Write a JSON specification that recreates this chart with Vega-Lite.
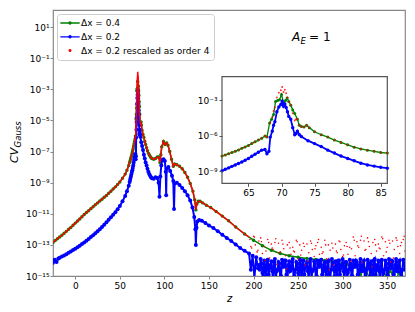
{
"$schema":"https://vega.github.io/schema/vega-lite/v6.json",
"width":352,"height":266,
"autosize":{"type":"none"},
"padding":{"left":53,"top":10,"right":10,"bottom":36},
"background":"white",
"config":{"font":"DejaVu Sans","view":{"stroke":"#888888","strokeWidth":1.2},"axis":{"grid":false,"domain":false,"labelFontSize":9,"labelColor":"#000000","tickColor":"#888888","tickSize":3,"titleFontWeight":"normal","titleColor":"#000000"}},
"datasets":{
"g":[{"z":-25,"v":1.41e-13},{"z":-22.5,"v":1.91e-13},{"z":-20,"v":2.51e-13},{"z":-17.5,"v":3.24e-13},{"z":-15,"v":4.17e-13},{"z":-12.5,"v":5.62e-13},{"z":-10,"v":7.41e-13},{"z":-7.5,"v":1e-12},{"z":-5,"v":1.32e-12},{"z":-2.5,"v":1.82e-12},{"z":0,"v":2.51e-12},{"z":2.5,"v":3.39e-12},{"z":5,"v":4.68e-12},{"z":7.5,"v":6.46e-12},{"z":10,"v":8.91e-12},{"z":12.5,"v":1.2e-11},{"z":15,"v":1.58e-11},{"z":17.5,"v":2.14e-11},{"z":20,"v":2.82e-11},{"z":22.5,"v":3.8e-11},{"z":25,"v":5.01e-11},{"z":27.5,"v":6.61e-11},{"z":30,"v":8.71e-11},{"z":32.5,"v":1.15e-10},{"z":35,"v":1.51e-10},{"z":37.5,"v":2.09e-10},{"z":40,"v":2.82e-10},{"z":42.5,"v":3.89e-10},{"z":45,"v":5.37e-10},{"z":47.5,"v":7.59e-10},{"z":50,"v":1.12e-9},{"z":53,"v":1.91e-9},{"z":56,"v":3.55e-9},{"z":58,"v":6.31e-9},{"z":60,"v":1.26e-8},{"z":61,"v":2e-8},{"z":61.5,"v":2.51e-8},{"z":62,"v":3.16e-8},{"z":62.5,"v":3.98e-8},{"z":63,"v":5.01e-8},{"z":63.5,"v":6.61e-8},{"z":64,"v":8.91e-8},{"z":64.5,"v":1.17e-7},{"z":65,"v":1.58e-7},{"z":65.5,"v":2.24e-7},{"z":66,"v":3.16e-7},{"z":66.5,"v":4.47e-7},{"z":67,"v":6.31e-7},{"z":67.5,"v":1e-6},{"z":67.8,"v":7.94e-7},{"z":68.2,"v":1.26e-5},{"z":68.5,"v":2.51e-5},{"z":68.8,"v":6.31e-5},{"z":69.1,"v":7.94e-4},{"z":69.4,"v":1e-3},{"z":69.7,"v":1.12e-3},{"z":70,"v":3.16e-3},{"z":70.3,"v":6.31e-4},{"z":70.6,"v":1e-3},{"z":70.85,"v":1.58e-3},{"z":71.1,"v":7.94e-4},{"z":71.4,"v":3.98e-4},{"z":71.7,"v":1.58e-4},{"z":72,"v":7.94e-5},{"z":72.4,"v":2.51e-5},{"z":72.7,"v":7.94e-6},{"z":73,"v":6.31e-6},{"z":73.4,"v":5.62e-6},{"z":73.8,"v":7.94e-6},{"z":74.2,"v":5.01e-6},{"z":75,"v":2.24e-6},{"z":76,"v":1.26e-6},{"z":77,"v":7.94e-7},{"z":78,"v":4.47e-7},{"z":79,"v":2.82e-7},{"z":80,"v":1.78e-7},{"z":81,"v":1.12e-7},{"z":82,"v":7.94e-8},{"z":83,"v":6.31e-8},{"z":84,"v":5.01e-8},{"z":85,"v":3.98e-8},{"z":86,"v":3.55e-8},{"z":88,"v":3.16e-8},{"z":90,"v":3.55e-8},{"z":92,"v":4.47e-8},{"z":93.5,"v":4.47e-8},{"z":95,"v":2e-8},{"z":96,"v":6.31e-8},{"z":97,"v":2e-7},{"z":99,"v":4.47e-7},{"z":100.5,"v":2.82e-7},{"z":102.5,"v":3.55e-7},{"z":104,"v":2.51e-7},{"z":106,"v":1e-7},{"z":108,"v":3.16e-8},{"z":110,"v":1.12e-8},{"z":111.5,"v":1.58e-8},{"z":114,"v":1.41e-8},{"z":117,"v":1.12e-8},{"z":120,"v":7.94e-9},{"z":123,"v":4.47e-9},{"z":126,"v":2.24e-9},{"z":129,"v":8.91e-10},{"z":132,"v":2.82e-10},{"z":134,"v":7.94e-11},{"z":135.3,"v":1.78e-11},{"z":136.5,"v":4.47e-11},{"z":138,"v":6.31e-11},{"z":140,"v":6.31e-11},{"z":143,"v":5.01e-11},{"z":147,"v":3.55e-11},{"z":152,"v":2.51e-11},{"z":158,"v":1.41e-11},{"z":165,"v":7.08e-12},{"z":172,"v":3.55e-12},{"z":180,"v":1.41e-12},{"z":190,"v":5.01e-13},{"z":200,"v":2e-13},{"z":210,"v":8.91e-14},{"z":220,"v":4.47e-14},{"z":230,"v":2.82e-14},{"z":240,"v":2e-14},{"z":250,"v":1.58e-14},{"z":260,"v":1.32e-14},{"z":270,"v":1.17e-14},{"z":280,"v":1e-14},{"z":285,"v":8.91e-15},{"z":290,"v":7.94e-15},{"z":295,"v":7.08e-15},{"z":300,"v":6.31e-15},{"z":305,"v":5.62e-15},{"z":310,"v":3.98e-15},{"z":315,"v":5.01e-15},{"z":320,"v":1.26e-15},{"z":322,"v":3.98e-15},{"z":326,"v":3.16e-15},{"z":330,"v":6.31e-16},{"z":333,"v":3.16e-15},{"z":336,"v":2.51e-15},{"z":340,"v":5.01e-16},{"z":342,"v":2.51e-15},{"z":346,"v":2e-15},{"z":350,"v":6.31e-16},{"z":353,"v":2e-15},{"z":356,"v":1.58e-15},{"z":360,"v":5.01e-16},{"z":363,"v":1.58e-15},{"z":366,"v":1.26e-15},{"z":370,"v":6.31e-16}],
"b":[{"z":-25,"v":7.08e-15},{"z":-23,"v":1.12e-14},{"z":-21,"v":7.94e-15},{"z":-19,"v":1.32e-14},{"z":-17.5,"v":1.51e-14},{"z":-15,"v":1.78e-14},{"z":-12.5,"v":2.09e-14},{"z":-10,"v":2.51e-14},{"z":-7.5,"v":3.09e-14},{"z":-5,"v":3.8e-14},{"z":-2.5,"v":4.68e-14},{"z":0,"v":5.62e-14},{"z":2.5,"v":7.08e-14},{"z":5,"v":8.91e-14},{"z":7.5,"v":1.12e-13},{"z":10,"v":1.41e-13},{"z":12.5,"v":1.86e-13},{"z":15,"v":2.4e-13},{"z":17.5,"v":3.16e-13},{"z":20,"v":4.17e-13},{"z":22.5,"v":5.62e-13},{"z":25,"v":7.41e-13},{"z":27.5,"v":1.02e-12},{"z":30,"v":1.41e-12},{"z":32.5,"v":2e-12},{"z":35,"v":2.82e-12},{"z":37.5,"v":4.07e-12},{"z":40,"v":5.89e-12},{"z":42.5,"v":8.51e-12},{"z":45,"v":1.26e-11},{"z":47.5,"v":1.95e-11},{"z":50,"v":3.16e-11},{"z":53,"v":6.31e-11},{"z":56,"v":1.41e-10},{"z":58,"v":2.82e-10},{"z":60,"v":6.31e-10},{"z":61,"v":1.12e-9},{"z":61.5,"v":1.51e-9},{"z":62,"v":2e-9},{"z":62.5,"v":2.69e-9},{"z":63,"v":3.55e-9},{"z":63.5,"v":4.79e-9},{"z":64,"v":6.31e-9},{"z":64.5,"v":8.91e-9},{"z":65,"v":1.26e-8},{"z":65.5,"v":1.91e-8},{"z":66,"v":2.82e-8},{"z":66.5,"v":4.17e-8},{"z":67,"v":6.31e-8},{"z":67.5,"v":7.08e-8},{"z":67.8,"v":3.16e-8},{"z":68.1,"v":5.01e-8},{"z":68.3,"v":7.94e-7},{"z":68.6,"v":2.51e-6},{"z":68.8,"v":7.94e-6},{"z":69,"v":1.58e-5},{"z":69.3,"v":1.12e-4},{"z":69.6,"v":2.82e-4},{"z":69.9,"v":4.47e-4},{"z":70.1,"v":8.32e-4},{"z":70.3,"v":3.16e-4},{"z":70.5,"v":5.01e-4},{"z":70.7,"v":2.51e-4},{"z":70.9,"v":1.12e-4},{"z":71.1,"v":4.47e-5},{"z":71.4,"v":2.51e-5},{"z":71.7,"v":5.01e-6},{"z":72,"v":1.26e-6},{"z":72.2,"v":1.58e-6},{"z":72.4,"v":2.51e-6},{"z":72.7,"v":1.26e-6},{"z":73,"v":8.91e-7},{"z":74,"v":3.98e-7},{"z":75,"v":2.24e-7},{"z":76,"v":1.26e-7},{"z":77,"v":6.31e-8},{"z":78,"v":3.55e-8},{"z":79,"v":2e-8},{"z":80,"v":1.26e-8},{"z":81,"v":7.94e-9},{"z":82,"v":5.01e-9},{"z":83,"v":3.55e-9},{"z":84,"v":2.82e-9},{"z":85,"v":2.24e-9},{"z":86,"v":1.91e-9},{"z":88,"v":1.78e-9},{"z":90,"v":2.24e-9},{"z":92,"v":2e-9},{"z":93.5,"v":1e-9},{"z":94.5,"v":1.26e-10},{"z":95.5,"v":2.51e-9},{"z":96.5,"v":1.26e-8},{"z":97.5,"v":2.82e-8},{"z":99,"v":3.16e-8},{"z":100.5,"v":2.51e-8},{"z":101.5,"v":5.01e-9},{"z":102,"v":1.58e-10},{"z":102.5,"v":7.94e-9},{"z":104.5,"v":1e-8},{"z":106.5,"v":5.62e-9},{"z":108.5,"v":2.82e-9},{"z":110,"v":1.26e-9},{"z":110.8,"v":2e-11},{"z":111.5,"v":8.91e-10},{"z":114,"v":1e-9},{"z":117,"v":7.08e-10},{"z":120,"v":4.47e-10},{"z":123,"v":2.82e-10},{"z":126,"v":1.58e-10},{"z":129,"v":7.08e-11},{"z":131.5,"v":2.51e-11},{"z":133.5,"v":6.31e-12},{"z":134.8,"v":1e-12},{"z":135.3,"v":1e-13},{"z":136,"v":1.26e-12},{"z":137,"v":3.16e-12},{"z":139,"v":3.98e-12},{"z":142,"v":3.55e-12},{"z":146,"v":2.51e-12},{"z":150,"v":1.78e-12},{"z":155,"v":1.2e-12},{"z":160,"v":7.59e-13},{"z":165,"v":4.47e-13},{"z":170,"v":2.82e-13},{"z":175,"v":1.78e-13},{"z":180,"v":1.05e-13},{"z":185,"v":6.31e-14},{"z":190,"v":4.17e-14},{"z":195,"v":2.82e-14},{"z":197,"v":2.51e-15},{"z":199,"v":2e-14},{"z":201,"v":7.94e-16},{"z":203,"v":1.58e-14},{"z":205,"v":3.16e-15},{"z":206,"v":5.01e-15},{"z":207,"v":2.51e-15},{"z":208,"v":1.26e-14},{"z":209,"v":6.31e-15},{"z":210,"v":1.58e-15},{"z":211,"v":1e-15},{"z":212,"v":1e-14},{"z":213,"v":3.98e-15},{"z":214,"v":6.31e-16},{"z":215,"v":1e-14},{"z":216,"v":1.12e-14},{"z":217,"v":1.26e-15},{"z":218,"v":3.16e-15},{"z":219,"v":5.01e-15},{"z":220,"v":8.91e-15},{"z":221,"v":2e-15},{"z":222,"v":5.01e-16},{"z":223,"v":7.94e-15},{"z":224,"v":1.26e-14},{"z":225,"v":6.31e-16},{"z":226,"v":2e-15},{"z":227,"v":2.51e-15},{"z":228,"v":7.94e-15},{"z":229,"v":6.31e-15},{"z":230,"v":7.94e-16},{"z":231,"v":1e-15},{"z":232,"v":1.12e-14},{"z":233,"v":3.98e-15},{"z":234,"v":3.98e-15},{"z":235,"v":1e-14},{"z":236,"v":1e-14},{"z":237,"v":1.26e-15},{"z":238,"v":5.01e-16},{"z":239,"v":5.01e-15},{"z":240,"v":8.91e-15},{"z":241,"v":2e-15},{"z":242,"v":2.51e-15},{"z":243,"v":7.94e-15},{"z":244,"v":1.26e-14},{"z":245,"v":6.31e-16},{"z":246,"v":1e-15},{"z":247,"v":2.51e-15},{"z":248,"v":7.94e-15},{"z":249,"v":6.31e-15},{"z":250,"v":1.58e-15},{"z":251,"v":1e-15},{"z":252,"v":1.12e-14},{"z":253,"v":3.98e-15},{"z":254,"v":5.01e-16},{"z":255,"v":1e-14},{"z":256,"v":1e-14},{"z":257,"v":1.26e-15},{"z":258,"v":3.16e-15},{"z":259,"v":5.01e-15},{"z":260,"v":7.94e-15},{"z":261,"v":2e-15},{"z":262,"v":6.31e-16},{"z":263,"v":7.94e-15},{"z":264,"v":1.26e-14},{"z":265,"v":6.31e-16},{"z":266,"v":2e-15},{"z":267,"v":2.51e-15},{"z":268,"v":8.91e-15},{"z":269,"v":6.31e-15},{"z":270,"v":5.01e-16},{"z":271,"v":1e-15},{"z":272,"v":1e-14},{"z":273,"v":3.98e-15},{"z":274,"v":3.98e-15},{"z":275,"v":1e-14},{"z":276,"v":1.12e-14},{"z":277,"v":1.26e-15},{"z":278,"v":7.94e-16},{"z":279,"v":5.01e-15},{"z":280,"v":7.94e-15},{"z":281,"v":2e-15},{"z":282,"v":1.26e-15},{"z":283,"v":7.94e-15},{"z":284,"v":1e-14},{"z":285,"v":6.31e-16},{"z":286,"v":5.01e-16},{"z":287,"v":2.51e-15},{"z":288,"v":1.26e-14},{"z":289,"v":6.31e-15},{"z":290,"v":2.51e-15},{"z":291,"v":1e-15},{"z":292,"v":8.91e-15},{"z":293,"v":3.98e-15},{"z":294,"v":6.31e-16},{"z":295,"v":1e-14},{"z":296,"v":1e-14},{"z":297,"v":1.26e-15},{"z":298,"v":3.16e-15},{"z":299,"v":5.01e-15},{"z":300,"v":1.26e-14},{"z":301,"v":2e-15},{"z":302,"v":5.01e-16},{"z":303,"v":7.94e-15},{"z":304,"v":7.94e-15},{"z":305,"v":6.31e-16},{"z":306,"v":1.58e-15},{"z":307,"v":2.51e-15},{"z":308,"v":1.12e-14},{"z":309,"v":6.31e-15},{"z":310,"v":1e-15},{"z":311,"v":1e-15},{"z":312,"v":1e-14},{"z":313,"v":3.98e-15},{"z":314,"v":3.98e-15},{"z":315,"v":1e-14},{"z":316,"v":7.94e-15},{"z":317,"v":1.26e-15},{"z":318,"v":5.01e-16},{"z":319,"v":5.01e-15},{"z":320,"v":1.26e-14},{"z":321,"v":2e-15},{"z":322,"v":2e-15},{"z":323,"v":7.94e-15},{"z":324,"v":1e-14},{"z":325,"v":6.31e-16},{"z":326,"v":6.31e-16},{"z":327,"v":2.51e-15},{"z":328,"v":1.12e-14},{"z":329,"v":6.31e-15},{"z":330,"v":3.16e-15},{"z":331,"v":1e-15},{"z":332,"v":8.91e-15},{"z":333,"v":3.98e-15},{"z":334,"v":5.01e-16},{"z":335,"v":1e-14},{"z":336,"v":1.26e-14},{"z":337,"v":1.26e-15},{"z":338,"v":2.51e-15},{"z":339,"v":5.01e-15},{"z":340,"v":1e-14},{"z":341,"v":2e-15},{"z":342,"v":7.94e-16},{"z":343,"v":7.94e-15},{"z":344,"v":1.12e-14},{"z":345,"v":6.31e-16},{"z":346,"v":1.58e-15},{"z":347,"v":2.51e-15},{"z":348,"v":1e-14},{"z":349,"v":6.31e-15},{"z":350,"v":5.01e-16},{"z":351,"v":1e-15},{"z":352,"v":1.26e-14},{"z":353,"v":3.98e-15},{"z":354,"v":3.16e-15},{"z":355,"v":1e-14},{"z":356,"v":8.91e-15},{"z":357,"v":1.26e-15},{"z":358,"v":6.31e-16},{"z":359,"v":5.01e-15},{"z":360,"v":1.26e-14},{"z":361,"v":2e-15},{"z":362,"v":2e-15},{"z":363,"v":7.94e-15},{"z":364,"v":1e-14},{"z":365,"v":6.31e-16},{"z":366,"v":5.01e-16},{"z":367,"v":2.51e-15},{"z":368,"v":1.12e-14},{"z":369,"v":6.31e-15},{"z":370,"v":2.51e-15}],
"r":[{"z":-25,"v":1.41e-13},{"z":-22.5,"v":1.91e-13},{"z":-20,"v":2.51e-13},{"z":-17.5,"v":3.24e-13},{"z":-15,"v":4.17e-13},{"z":-12.5,"v":5.62e-13},{"z":-10,"v":7.41e-13},{"z":-7.5,"v":1e-12},{"z":-5,"v":1.32e-12},{"z":-2.5,"v":1.82e-12},{"z":0,"v":2.51e-12},{"z":2.5,"v":3.39e-12},{"z":5,"v":4.68e-12},{"z":7.5,"v":6.46e-12},{"z":10,"v":8.91e-12},{"z":12.5,"v":1.2e-11},{"z":15,"v":1.58e-11},{"z":17.5,"v":2.14e-11},{"z":20,"v":2.82e-11},{"z":22.5,"v":3.8e-11},{"z":25,"v":5.01e-11},{"z":27.5,"v":6.61e-11},{"z":30,"v":8.71e-11},{"z":32.5,"v":1.15e-10},{"z":35,"v":1.51e-10},{"z":37.5,"v":2.09e-10},{"z":40,"v":2.82e-10},{"z":42.5,"v":3.89e-10},{"z":45,"v":5.37e-10},{"z":47.5,"v":7.59e-10},{"z":50,"v":1.12e-9},{"z":53,"v":1.91e-9},{"z":56,"v":3.55e-9},{"z":58,"v":6.31e-9},{"z":60,"v":1.26e-8},{"z":61,"v":2e-8},{"z":61.5,"v":2.51e-8},{"z":62,"v":3.16e-8},{"z":62.5,"v":3.98e-8},{"z":63,"v":5.01e-8},{"z":63.5,"v":6.61e-8},{"z":64,"v":8.91e-8},{"z":64.5,"v":1.17e-7},{"z":65,"v":1.58e-7},{"z":65.5,"v":2.24e-7},{"z":66,"v":3.16e-7},{"z":66.5,"v":4.47e-7},{"z":67,"v":6.31e-7},{"z":67.5,"v":1e-6},{"z":67.8,"v":7.94e-7},{"z":68.3,"v":1.27e-5},{"z":68.6,"v":4.02e-5},{"z":68.8,"v":1.27e-4},{"z":69,"v":2.53e-4},{"z":69.3,"v":1.79e-3},{"z":69.6,"v":4.51e-3},{"z":69.9,"v":7.15e-3},{"z":70.1,"v":1.33e-2},{"z":70.3,"v":5.06e-3},{"z":70.5,"v":8.02e-3},{"z":70.7,"v":4.02e-3},{"z":70.9,"v":1.79e-3},{"z":71.1,"v":7.15e-4},{"z":71.4,"v":4.02e-4},{"z":71.7,"v":8.02e-5},{"z":72,"v":2.02e-5},{"z":72.2,"v":2.53e-5},{"z":72.4,"v":2.51e-5},{"z":72.7,"v":7.94e-6},{"z":73,"v":6.31e-6},{"z":73.4,"v":5.62e-6},{"z":73.8,"v":7.94e-6},{"z":74.2,"v":5.01e-6},{"z":75,"v":2.24e-6},{"z":76,"v":1.26e-6},{"z":77,"v":7.94e-7},{"z":78,"v":4.47e-7},{"z":79,"v":2.82e-7},{"z":80,"v":1.78e-7},{"z":81,"v":1.12e-7},{"z":82,"v":7.94e-8},{"z":83,"v":6.31e-8},{"z":84,"v":5.01e-8},{"z":85,"v":3.98e-8},{"z":86,"v":3.55e-8},{"z":88,"v":3.16e-8},{"z":90,"v":3.55e-8},{"z":92,"v":4.47e-8},{"z":93.5,"v":4.47e-8},{"z":95,"v":2e-8},{"z":96,"v":6.31e-8},{"z":97,"v":2e-7},{"z":99,"v":4.47e-7},{"z":100.5,"v":2.82e-7},{"z":102.5,"v":3.55e-7},{"z":104,"v":2.51e-7},{"z":106,"v":1e-7},{"z":108,"v":3.16e-8},{"z":110,"v":1.12e-8},{"z":111.5,"v":1.58e-8},{"z":114,"v":1.41e-8},{"z":117,"v":1.12e-8},{"z":120,"v":7.94e-9},{"z":123,"v":4.47e-9},{"z":126,"v":2.24e-9},{"z":129,"v":8.91e-10},{"z":132,"v":2.82e-10},{"z":134,"v":7.94e-11},{"z":135.3,"v":1.78e-11},{"z":136.5,"v":4.47e-11},{"z":138,"v":6.31e-11},{"z":140,"v":6.31e-11},{"z":143,"v":5.01e-11},{"z":147,"v":3.55e-11},{"z":152,"v":2.51e-11},{"z":158,"v":1.41e-11},{"z":165,"v":7.08e-12},{"z":172,"v":3.55e-12},{"z":180,"v":1.41e-12},{"z":190,"v":5.01e-13},{"z":195,"v":3.2e-13}],
"rs":[{"z":196,"v":2.24e-13},{"z":197,"v":7.94e-14},{"z":198,"v":6.31e-14},{"z":200,"v":3.55e-13},{"z":201,"v":3.16e-13},{"z":202,"v":1e-13},{"z":204,"v":3.55e-14},{"z":205,"v":4.47e-14},{"z":206,"v":1.78e-13},{"z":208,"v":2.82e-13},{"z":209,"v":1.58e-13},{"z":210,"v":2.82e-14},{"z":212,"v":7.94e-14},{"z":213,"v":1e-14},{"z":214,"v":3.98e-14},{"z":216,"v":2.24e-13},{"z":217,"v":1.41e-13},{"z":218,"v":1.41e-14},{"z":220,"v":1.12e-13},{"z":221,"v":6.31e-14},{"z":222,"v":5.01e-14},{"z":224,"v":1.41e-13},{"z":225,"v":2.51e-13},{"z":226,"v":5.62e-15},{"z":228,"v":1.26e-13},{"z":229,"v":3.16e-14},{"z":230,"v":3.55e-14},{"z":232,"v":2e-13},{"z":233,"v":1.12e-13},{"z":234,"v":5.62e-14},{"z":236,"v":2e-14},{"z":237,"v":2.82e-15},{"z":238,"v":1e-13},{"z":240,"v":1.41e-13},{"z":241,"v":6.31e-14},{"z":242,"v":2.51e-14},{"z":244,"v":7.08e-14},{"z":245,"v":3.98e-14},{"z":246,"v":3.55e-14},{"z":248,"v":2e-13},{"z":249,"v":1.58e-13},{"z":250,"v":1.26e-14},{"z":252,"v":1e-13},{"z":253,"v":2.24e-14},{"z":254,"v":4.47e-14},{"z":256,"v":1.26e-13},{"z":257,"v":7.94e-14},{"z":258,"v":5.01e-15},{"z":260,"v":1.12e-13},{"z":261,"v":8.91e-15},{"z":262,"v":3.16e-14},{"z":264,"v":1.78e-13},{"z":265,"v":1.26e-13},{"z":266,"v":5.01e-14},{"z":268,"v":1.78e-14},{"z":269,"v":5.62e-14},{"z":270,"v":8.91e-14},{"z":272,"v":1.41e-13},{"z":273,"v":2.24e-13},{"z":274,"v":2.51e-14},{"z":276,"v":7.08e-14},{"z":277,"v":2.82e-14},{"z":278,"v":3.55e-14},{"z":280,"v":2e-13},{"z":281,"v":1e-13},{"z":282,"v":1.26e-14},{"z":284,"v":1e-13},{"z":285,"v":2.51e-15},{"z":286,"v":4.47e-14},{"z":288,"v":1.26e-13},{"z":289,"v":6.31e-14},{"z":290,"v":5.01e-15},{"z":292,"v":1.12e-13},{"z":293,"v":3.98e-14},{"z":294,"v":3.16e-14},{"z":296,"v":1.78e-13},{"z":297,"v":1.58e-13},{"z":298,"v":5.01e-14},{"z":300,"v":1.78e-14},{"z":301,"v":2.24e-14},{"z":302,"v":8.91e-14},{"z":304,"v":1.41e-13},{"z":305,"v":7.94e-14},{"z":306,"v":2.51e-14},{"z":308,"v":7.08e-14},{"z":309,"v":8.91e-15},{"z":310,"v":5.62e-14},{"z":312,"v":3.16e-13},{"z":313,"v":2e-13},{"z":314,"v":2e-14},{"z":316,"v":1.58e-13},{"z":317,"v":8.91e-14},{"z":318,"v":7.08e-14},{"z":320,"v":2e-13},{"z":321,"v":3.55e-13},{"z":322,"v":7.94e-15},{"z":324,"v":1.78e-13},{"z":325,"v":4.47e-14},{"z":326,"v":5.01e-14},{"z":328,"v":2.82e-13},{"z":329,"v":1.58e-13},{"z":330,"v":7.94e-14},{"z":332,"v":2.82e-14},{"z":333,"v":3.98e-15},{"z":334,"v":1.41e-13},{"z":336,"v":2.24e-13},{"z":337,"v":1e-13},{"z":338,"v":3.98e-14},{"z":340,"v":1.12e-13},{"z":341,"v":6.31e-14},{"z":342,"v":5.62e-14},{"z":344,"v":3.16e-13},{"z":345,"v":2.51e-13},{"z":346,"v":2e-14},{"z":348,"v":1.58e-13},{"z":349,"v":3.55e-14},{"z":350,"v":7.08e-14},{"z":352,"v":2e-13},{"z":353,"v":1.26e-13},{"z":354,"v":7.94e-15},{"z":356,"v":1.78e-13},{"z":357,"v":1.41e-14},{"z":358,"v":5.01e-14},{"z":360,"v":2.82e-13},{"z":361,"v":2e-13},{"z":362,"v":7.94e-14},{"z":364,"v":2.82e-14},{"z":365,"v":8.91e-14},{"z":366,"v":1.41e-13},{"z":368,"v":2.24e-13},{"z":369,"v":3.55e-13},{"z":370,"v":3.98e-14}]
},
"layer":[
{"layer":[
{"data":{"name":"g"},"mark":{"type":"line","color":"#008000","strokeWidth":1.5,"clip":true},
 "encoding":{
  "x":{"field":"z","type":"quantitative","scale":{"domain":[-25,370],"nice":false,"zero":false},"axis":{"values":[0,50,100,150,200,250,300,350],"title":"z","titleFontStyle":"italic","titleFontSize":10,"labelPadding":2,"titlePadding":3}},
  "y":{"field":"v","type":"quantitative","scale":{"type":"log","domain":[1e-15,125.9],"nice":false},"axis":{"values":[10,0.1,0.001,1e-5,1e-7,1e-9,1e-11,1e-13,1e-15],"title":null,"labelPadding":1,"labelExpr":"'10' + (datum.value < 1 ? '⁻' : '') + (abs(round(log(datum.value)/LN10)) >= 10 ? ['⁰','¹','²','³','⁴','⁵','⁶','⁷','⁸','⁹'][floor(abs(round(log(datum.value)/LN10))/10)] : '') + ['⁰','¹','²','³','⁴','⁵','⁶','⁷','⁸','⁹'][abs(round(log(datum.value)/LN10)) % 10]"}}}},
{"data":{"name":"g"},"mark":{"type":"point","filled":true,"color":"#008000","size":12,"opacity":1,"clip":true},"encoding":{"x":{"field":"z","type":"quantitative"},"y":{"field":"v","type":"quantitative"}}},
{"data":{"name":"b"},"mark":{"type":"line","color":"#0000ff","strokeWidth":2,"clip":true},"encoding":{"x":{"field":"z","type":"quantitative"},"y":{"field":"v","type":"quantitative"}}},
{"data":{"name":"b"},"mark":{"type":"point","filled":true,"color":"#0000ff","size":16,"opacity":1,"clip":true},"encoding":{"x":{"field":"z","type":"quantitative"},"y":{"field":"v","type":"quantitative"}}},
{"data":{"name":"r"},"mark":{"type":"line","color":"#ff0000","strokeWidth":1.5,"clip":true},"encoding":{"x":{"field":"z","type":"quantitative"},"y":{"field":"v","type":"quantitative"}}},
{"data":{"name":"rs"},"mark":{"type":"point","filled":true,"color":"#ff0000","size":2.5,"opacity":1,"clip":true},"encoding":{"x":{"field":"z","type":"quantitative"},"y":{"field":"v","type":"quantitative"}}},
{"data":{"values":[{"s":"Δx = 0.4"},{"s":"Δx = 0.2"},{"s":"Δx = 0.2 rescaled as order 4"}]},"mark":{"type":"point","filled":true,"opacity":0},
 "encoding":{
  "color":{"field":"s","type":"nominal","scale":{"domain":["Δx = 0.4","Δx = 0.2","Δx = 0.2 rescaled as order 4"],"range":["#008000","#0000ff","#ff0000"]},"legend":{"title":null,"orient":"top-left","offset":4,"padding":4,"fillColor":"#ffffff","strokeColor":"#cccccc","cornerRadius":3,"labelFontSize":9,"labelColor":"#000000","symbolSize":100,"symbolStrokeWidth":0,"symbolOpacity":1,"rowPadding":3.8,"labelOffset":6,"symbolOffset":4}},
  "shape":{"field":"s","type":"nominal","scale":{"domain":["Δx = 0.4","Δx = 0.2","Δx = 0.2 rescaled as order 4"],"range":["M-1.93,-0.13H1.93V0.13H-1.93Z M0.34,0A0.34,0.34 0 1,1 -0.34,0A0.34,0.34 0 1,1 0.34,0Z","M-1.93,-0.13H1.93V0.13H-1.93Z M0.34,0A0.34,0.34 0 1,1 -0.34,0A0.34,0.34 0 1,1 0.34,0Z","M0.3,0A0.3,0.3 0 1,1 -0.3,0A0.3,0.3 0 1,1 0.3,0Z"]},"legend":{"title":null,"orient":"top-left","offset":4,"padding":4,"fillColor":"#ffffff","strokeColor":"#cccccc","cornerRadius":3,"labelFontSize":9,"labelColor":"#000000","symbolSize":100,"symbolStrokeWidth":0,"symbolOpacity":1,"rowPadding":3.8,"labelOffset":6,"symbolOffset":4}}}},
{"data":{"values":[{"z":243.3,"v":1.26}]},"mark":{"type":"text","text":"A","fontStyle":"italic","fontSize":12,"align":"left","baseline":"alphabetic","color":"#000000"},"encoding":{"x":{"field":"z","type":"quantitative"},"y":{"field":"v","type":"quantitative"}}},
{"data":{"values":[{"z":243.3,"v":1.26}]},"mark":{"type":"text","text":"E","fontStyle":"italic","fontSize":8.5,"dx":8.5,"dy":2.5,"align":"left","baseline":"alphabetic","color":"#000000"},"encoding":{"x":{"field":"z","type":"quantitative"},"y":{"field":"v","type":"quantitative"}}},
{"data":{"values":[{"z":243.3,"v":1.26}]},"mark":{"type":"text","text":"= 1","fontSize":12,"dx":17,"align":"left","baseline":"alphabetic","color":"#000000"},"encoding":{"x":{"field":"z","type":"quantitative"},"y":{"field":"v","type":"quantitative"}}},
{"data":{"values":[{"z":-64.3,"v":1.86e-8}]},"mark":{"type":"text","text":"CV","fontStyle":"italic","fontSize":11,"angle":270,"align":"left","baseline":"alphabetic","color":"#000000"},"encoding":{"x":{"field":"z","type":"quantitative"},"y":{"field":"v","type":"quantitative"}}},
{"data":{"values":[{"z":-64.3,"v":1.86e-8}]},"mark":{"type":"text","text":"Gauss","fontStyle":"italic","fontSize":8.5,"angle":270,"dx":15.5,"dy":3,"align":"left","baseline":"alphabetic","color":"#000000"},"encoding":{"x":{"field":"z","type":"quantitative"},"y":{"field":"v","type":"quantitative"}}}
]},
{"layer":[
{"data":{"values":[{"z":61,"z2":86,"v":1e-10,"v2":0.1}]},"mark":{"type":"rect","fill":"#ffffff","stroke":"#555555","strokeWidth":1.2},
 "encoding":{
  "x":{"field":"z","type":"quantitative","scale":{"domain":[61,86],"range":[169,334.3],"nice":false,"zero":false},"axis":{"orient":"bottom","offset":-92.7,"values":[65,70,75,80,85],"title":null,"zindex":1,"labelPadding":2,"tickColor":"#555555"}},
  "x2":{"field":"z2"},
  "y":{"field":"v","type":"quantitative","scale":{"type":"log","domain":[1e-10,0.1],"range":[173.3,66.7],"nice":false},"axis":{"orient":"left","offset":-169,"values":[1e-9,1e-6,0.001],"title":null,"zindex":1,"labelPadding":2,"tickColor":"#555555","labelExpr":"'10' + (datum.value < 1 ? '⁻' : '') + (abs(round(log(datum.value)/LN10)) >= 10 ? ['⁰','¹','²','³','⁴','⁵','⁶','⁷','⁸','⁹'][floor(abs(round(log(datum.value)/LN10))/10)] : '') + ['⁰','¹','²','³','⁴','⁵','⁶','⁷','⁸','⁹'][abs(round(log(datum.value)/LN10)) % 10]"}},
  "y2":{"field":"v2"}}},
{"data":{"name":"g"},"transform":[{"filter":"datum.z >= 61 && datum.z <= 86"}],"mark":{"type":"line","color":"#008000","strokeWidth":1.3},"encoding":{"x":{"field":"z","type":"quantitative"},"y":{"field":"v","type":"quantitative"}}},
{"data":{"name":"g"},"transform":[{"filter":"datum.z >= 61 && datum.z <= 86"}],"mark":{"type":"point","filled":true,"color":"#008000","size":9,"opacity":1},"encoding":{"x":{"field":"z","type":"quantitative"},"y":{"field":"v","type":"quantitative"}}},
{"data":{"name":"b"},"transform":[{"filter":"datum.z >= 61 && datum.z <= 86"}],"mark":{"type":"line","color":"#0000ff","strokeWidth":1.8},"encoding":{"x":{"field":"z","type":"quantitative"},"y":{"field":"v","type":"quantitative"}}},
{"data":{"name":"b"},"transform":[{"filter":"datum.z >= 61 && datum.z <= 86"}],"mark":{"type":"point","filled":true,"color":"#0000ff","size":12,"opacity":1},"encoding":{"x":{"field":"z","type":"quantitative"},"y":{"field":"v","type":"quantitative"}}},
{"data":{"name":"r"},"transform":[{"filter":"datum.z >= 61 && datum.z <= 86"}],"mark":{"type":"point","filled":true,"color":"#ff0000","size":4,"opacity":0.8},"encoding":{"x":{"field":"z","type":"quantitative"},"y":{"field":"v","type":"quantitative"}}}
]}
],
"resolve":{"scale":{"x":"independent","y":"independent"}}
}
